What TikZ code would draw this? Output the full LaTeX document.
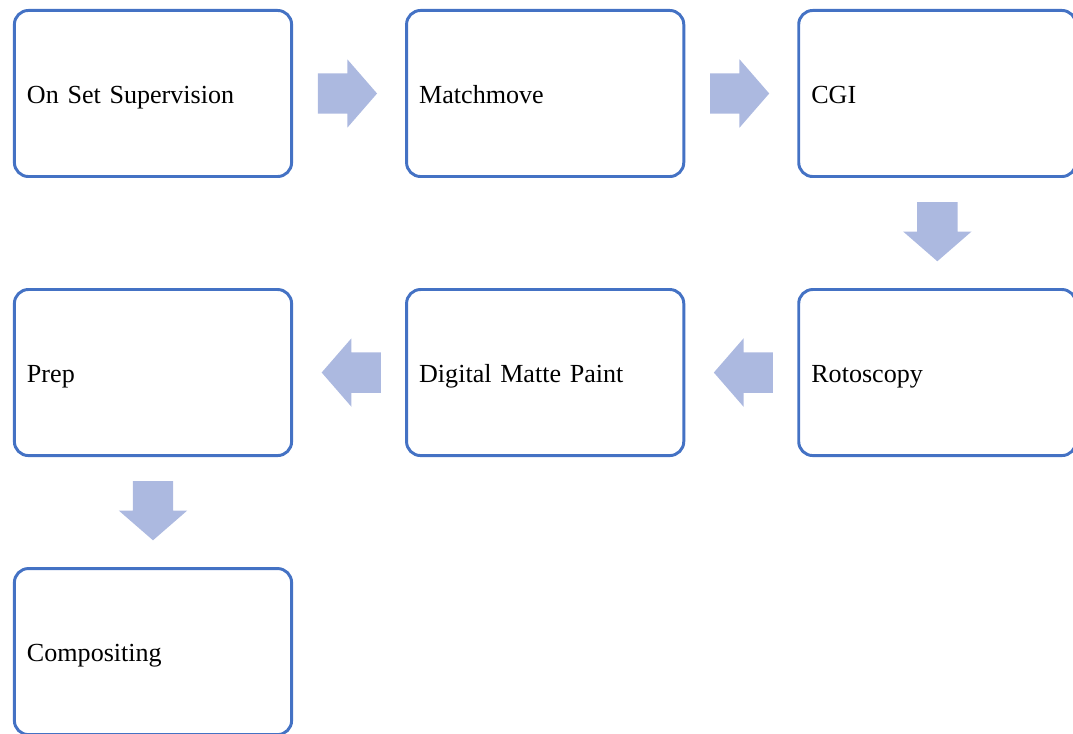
\documentclass[tikz,border=0pt]{standalone}
\usepackage{fontspec}
\setmainfont{Liberation Serif}
\usetikzlibrary{positioning}
\usetikzlibrary{shapes.arrows}
\usetikzlibrary{calc}
\definecolor{boxblue}{HTML}{4472C4}
\definecolor{arrowblue}{HTML}{ACB9E0}

\begin{document}
\begin{tikzpicture}[
		stage/.style={draw=boxblue, line width=3pt, rounded corners=0.5cm,
			minimum width=9.9cm, minimum height=5.93cm, text width=9cm, align=left,
			inner xsep=0.45cm, text height=1cm, text depth=0.3cm,
			font=\fontsize{26.5}{32}\selectfont},
		flow/.style={single arrow, fill=arrowblue, draw=none,
			inner xsep=0pt, inner ysep=0.715cm,
			minimum height=2.11cm,
			single arrow head extend=0.5cm, single arrow tip angle=98},
		node distance=4cm]
	\useasboundingbox (0,0) rectangle (38.32,-26.21);
	% first row
	\node[stage] (onset) at (5.464,-3.339) {On Set Supervision};
	\node[stage, right=of onset] (match) {Matchmove};
	\node[stage, right=of match] (cgi) {CGI};
	% second row
	\node[stage, below=3.93cm of cgi] (roto) {Rotoscopy};
	\node[stage, left=of roto] (matte) {Digital Matte Paint};
	\node[stage, left=of matte] (prep) {Prep};
	% last one
	\node[stage, below=3.93cm of prep] (comp) {Compositing};
	% block arrows
	\node[flow] (f1) at ($(onset.east)!0.5!(match.west)+(-0.37,0)$) {};
	\node[flow] (f2) at ($(match.east)!0.5!(cgi.west)+(-0.37,0)$) {};
	\node[flow, rotate=-90] (f3) at ($(cgi.south)!0.5!(roto.north)+(0,0.36)$) {};
	\node[flow, rotate=180] (f4) at ($(roto.west)!0.5!(matte.east)+(0.39,0)$) {};
	\node[flow, rotate=180] (f5) at ($(matte.west)!0.5!(prep.east)+(0.39,0)$) {};
	\node[flow, rotate=-90] (f6) at ($(prep.south)!0.5!(comp.north)+(0,0.36)$) {};
\end{tikzpicture}
\end{document}
